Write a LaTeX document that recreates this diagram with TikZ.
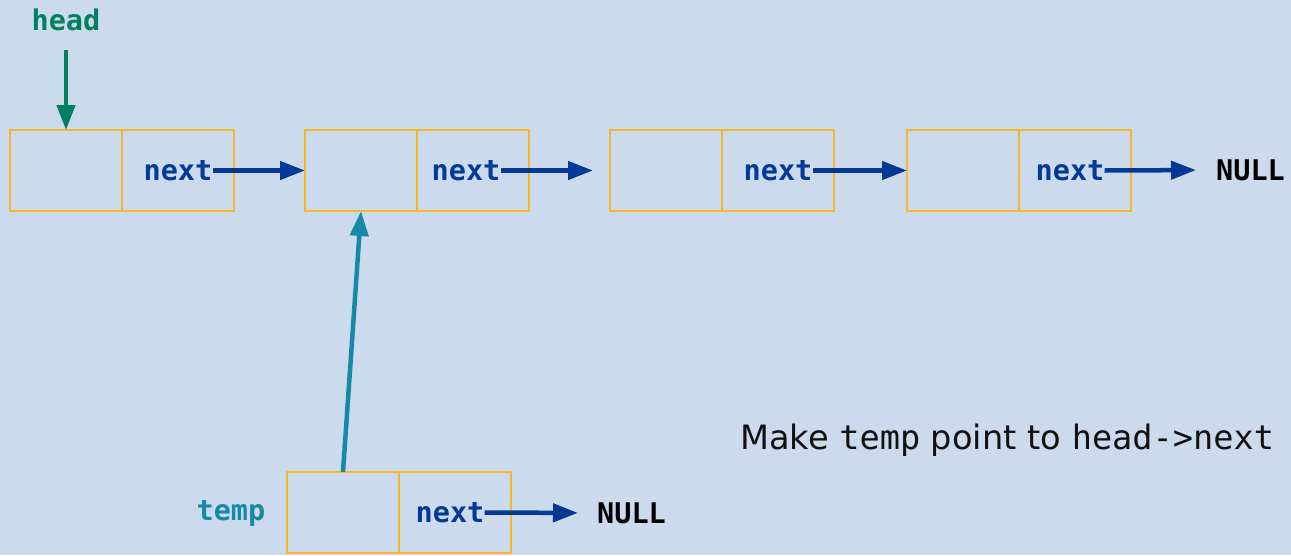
\documentclass[tikz,border=0pt]{standalone}
\usepackage{fontspec}
\setmainfont{DejaVu Sans}
\setmonofont{DejaVu Sans Mono}
\usepackage{xcolor}
\usetikzlibrary{arrows.meta,positioning}

\definecolor{bgblue}{RGB}{203,218,236}
\definecolor{boxorange}{RGB}{246,183,40}
\definecolor{nextblue}{RGB}{4,58,150}
\definecolor{headgreen}{RGB}{0,128,96}
\definecolor{tempteal}{RGB}{22,136,168}

\begin{document}
\begin{tikzpicture}[x=1pt,y=-1pt,
  cell/.style={draw=boxorange, line width=2pt, minimum width=112pt, minimum height=81pt, outer sep=0pt, inner sep=0pt},
  lbl/.style={font=\fontsize{28.5}{30}\selectfont\ttfamily\bfseries, inner sep=0pt},
  ptr/.style={-{Triangle[length=25pt,width=18pt]}, line width=4.5pt},
]

  \fill[bgblue] (0,0) rectangle (1291,555);
  \useasboundingbox (0,0) rectangle (1291,555);

  % the list
  \node[cell] (n1d) at (66,170.5) {};
  \node[cell, right=0pt of n1d] (n1n) {};
  \node[cell] (n2d) at (361,170.5) {};
  \node[cell, right=0pt of n2d] (n2n) {};
  \node[cell] (n3d) at (666,170.5) {};
  \node[cell, right=0pt of n3d] (n3n) {};
  \node[cell] (n4d) at (963,170.5) {};
  \node[cell, right=0pt of n4d] (n4n) {};

  \node[lbl, nextblue] (l1) at (n1n.center) {next};
  \node[lbl, nextblue, xshift=-7pt] (l2) at (n2n.center) {next};
  \node[lbl, nextblue] (l3) at (n3n.center) {next};
  \node[lbl, nextblue, xshift=-5pt] (l4) at (n4n.center) {next};
  \node[lbl, anchor=west] (null1) at (1216,170) {NULL};

  \draw[ptr, nextblue] (l1.east) -- (n2d.west);
  \draw[ptr, nextblue, shorten >=17pt] (l2.east) -- (n3d.west);
  \draw[ptr, nextblue] (l3.east) -- (n4d.west);
  \draw[ptr, nextblue, shorten >=20pt] (l4.east) -- (null1.west);

  % head pointer
  \node[lbl, headgreen] (head) at (66,20) {head};
  \draw[ptr, headgreen, shorten <=19pt] (head.south) -- (n1d.north);

  % temp node
  \node[cell] (ntd) at (343,512.5) {};
  \node[cell, right=0pt of ntd] (ntn) {};
  \node[lbl, nextblue, xshift=-5pt] (lt) at (ntn.center) {next};
  \node[lbl, anchor=west] (null2) at (597,513) {NULL};
  \draw[ptr, nextblue, shorten >=19pt] (lt.east) -- (null2.west);

  \node[lbl, tempteal] (temp) at (231,513) {temp};
  \draw[ptr, tempteal] (ntd.north) -- (n2d.south);

  \node[anchor=west, inner sep=0pt, font=\fontsize{33.6}{36}\selectfont, text={rgb,255:red,17;green,17;blue,17}] (note) at (740,440)
    {Make \texttt{temp} point to \texttt{head->next}};

\end{tikzpicture}
\end{document}
